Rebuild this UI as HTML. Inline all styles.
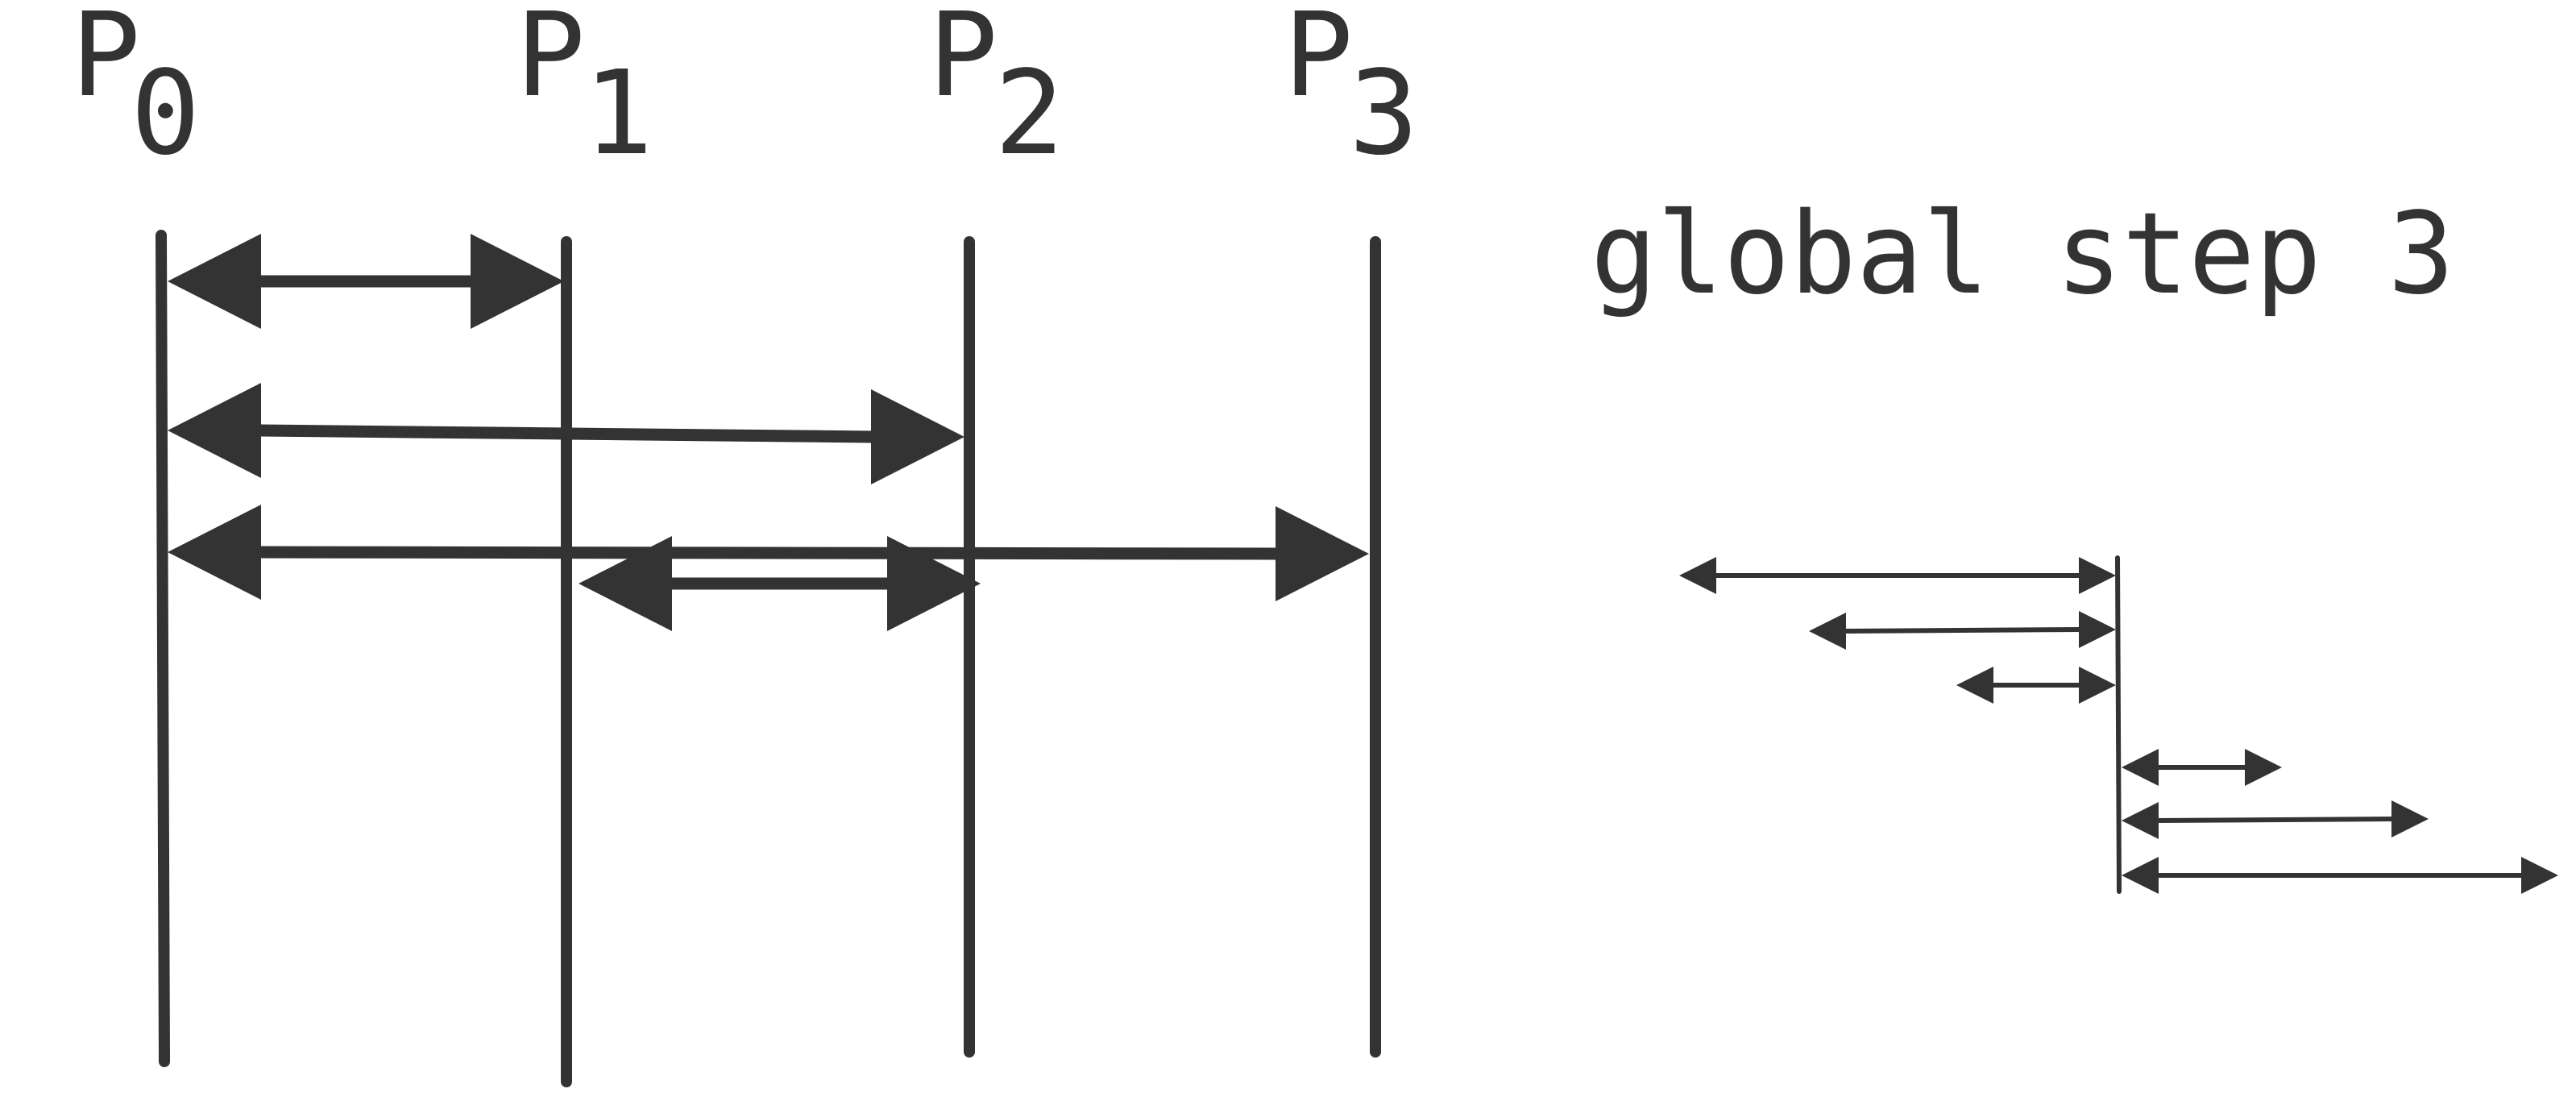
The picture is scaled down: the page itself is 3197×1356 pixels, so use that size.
<!DOCTYPE html>
<html><head><meta charset="utf-8"><style>
html,body{margin:0;padding:0;background:#fff;width:3197px;height:1356px;overflow:hidden}
svg text{font-family:"DejaVu Sans Mono","Liberation Mono",monospace;fill:#333}
</style></head><body>
<svg id="chart" width="3197" height="1356" viewBox="0 0 3197 1356" xmlns="http://www.w3.org/2000/svg">
<g>
<text x="88" y="118" font-size="144">P</text>
<text x="162" y="190" font-size="144">0</text>
<text x="640" y="118" font-size="144">P</text>
<text x="724" y="190" font-size="144">1</text>
<text x="1152" y="118" font-size="144">P</text>
<text x="1234" y="190" font-size="144">2</text>
<text x="1593" y="118" font-size="144">P</text>
<text x="1674" y="190" font-size="144">3</text>
</g>
<text x="1974" y="363" font-size="140" textLength="1072" lengthAdjust="spacingAndGlyphs">global step 3</text>
<g id="lines"></g>
<g id="arrows"></g>
</svg>
<script>
// process timelines: [x top, y top, x bottom, y bottom]
const procTopX = [200, 703, 1203, 1707];
const procBotX = [204, 703, 1203, 1707];
const procTopY = [292, 300, 300, 300];
const procBotY = [1317, 1342, 1305, 1305];
// big arrows (left panel)
const bigX1 = [208, 208, 208, 718];
const bigX2 = [700, 1197, 1699, 1217];
const bigY1 = [349, 534, 685, 724];
const bigY2 = [349, 542, 687, 724];
// small arrows (right panel)
const smallX1 = [2084, 2245, 2428, 2633, 2633, 2633];
const smallX2 = [2626, 2626, 2626, 2832, 3014, 3175];
const smallY1 = [714, 783, 850, 952, 1018, 1086];
const smallY2 = [714, 781, 850, 952, 1016, 1086];

const NS = 'http://www.w3.org/2000/svg';
const C = '#333';
const lines = document.getElementById('lines');
const arrows = document.getElementById('arrows');

for (let i = 0; i < procTopX.length; i++) {
  const l = document.createElementNS(NS, 'line');
  l.setAttribute('x1', procTopX[i]); l.setAttribute('y1', procTopY[i]);
  l.setAttribute('x2', procBotX[i]); l.setAttribute('y2', procBotY[i]);
  l.setAttribute('stroke', C); l.setAttribute('stroke-width', 14); l.setAttribute('stroke-linecap', 'round');
  
  
  lines.appendChild(l);
}
const v = document.createElementNS(NS, 'line');
v.setAttribute('x1', 2628); v.setAttribute('y1', 692); v.setAttribute('x2', 2630); v.setAttribute('y2', 1106);
v.setAttribute('stroke', C); v.setAttribute('stroke-width', 6); v.setAttribute('stroke-linecap', 'round');


lines.appendChild(v);

function drawArrow(x1, y1, x2, y2, sw, hl, hh, name) {
  const g = document.createElementNS(NS, 'g');
  
  
  const l = document.createElementNS(NS, 'line');
  l.setAttribute('x1', x1 + hl - 2); l.setAttribute('y1', y1);
  l.setAttribute('x2', x2 - hl + 2); l.setAttribute('y2', y2);
  l.setAttribute('stroke', C); l.setAttribute('stroke-width', sw);
  g.appendChild(l);
  const p1 = document.createElementNS(NS, 'polygon');
  p1.setAttribute('points', `${x1},${y1} ${x1 + hl},${y1 - hh} ${x1 + hl},${y1 + hh}`);
  p1.setAttribute('fill', C);
  g.appendChild(p1);
  const p2 = document.createElementNS(NS, 'polygon');
  p2.setAttribute('points', `${x2},${y2} ${x2 - hl},${y2 - hh} ${x2 - hl},${y2 + hh}`);
  p2.setAttribute('fill', C);
  g.appendChild(p2);
  arrows.appendChild(g);
}
for (let i = 0; i < bigX1.length; i++) drawArrow(bigX1[i], bigY1[i], bigX2[i], bigY2[i], 15, 116, 59, 'message-arrow-' + i);
for (let i = 0; i < smallX1.length; i++) drawArrow(smallX1[i], smallY1[i], smallX2[i], smallY2[i], 6, 46, 23, 'step-arrow-' + i);
</script>
</body></html>
